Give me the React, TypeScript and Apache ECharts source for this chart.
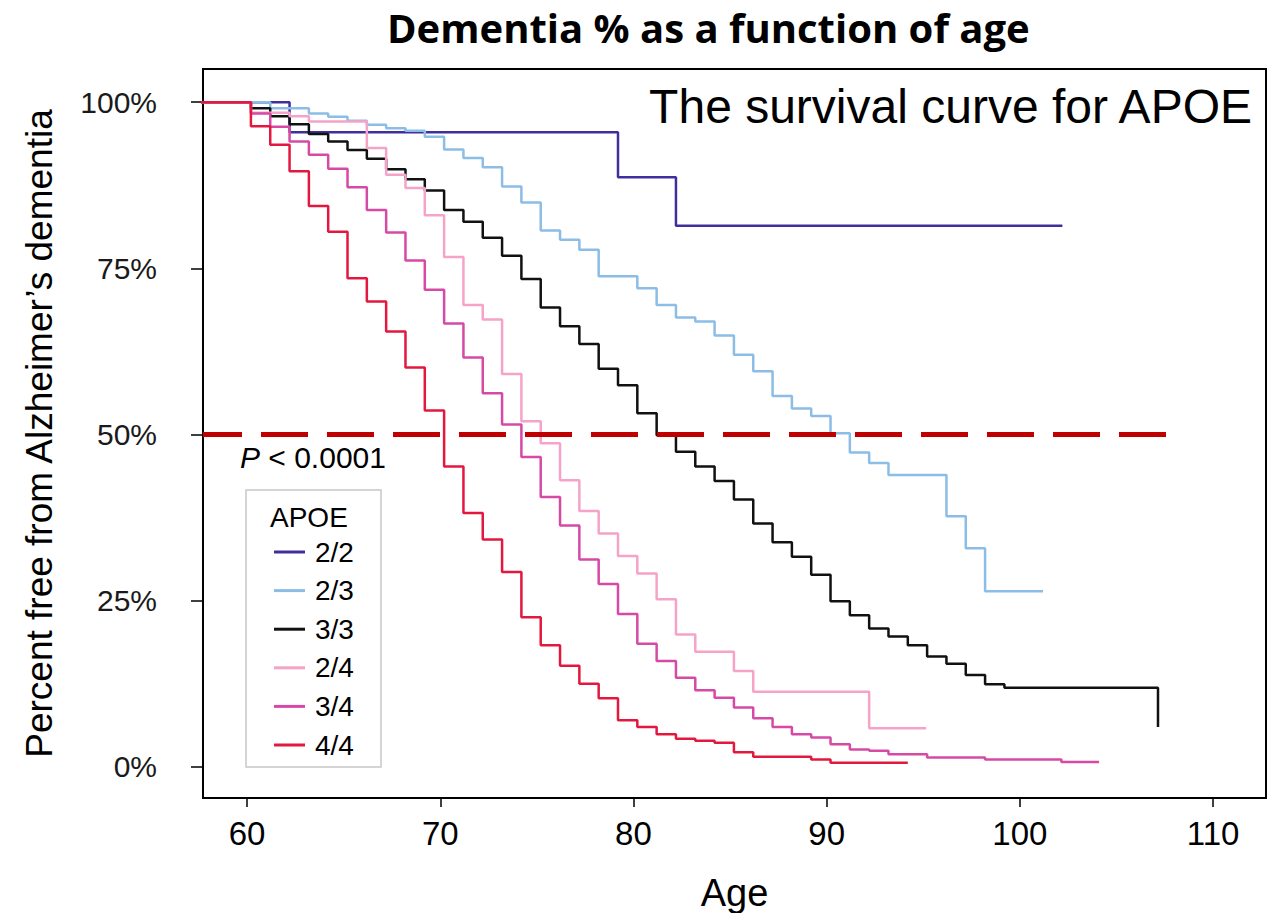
import React, { useEffect, useRef } from "react";
import * as echarts from "echarts";

const FONT = "'Liberation Sans', Arial, Helvetica, sans-serif";

// Axis extents (age in years, survival in percent)
const AGE_MIN = 57.72;
const AGE_MAX = 112.74;
const PCT_MIN = -4.7;
const PCT_MAX = 105;
const START_AGE = 55;

const X_TICKS = [60, 70, 80, 90, 100, 110];
const Y_TICKS = [0, 25, 50, 75, 100];

// Kaplan-Meier step data: ages at which the curve drops, and the level after each drop
const apoe22Ages = [62.2, 79.2, 82.2];
const apoe22Surv = [95.5, 88.7, 81.4];
const apoe22End = 102.2;

const apoe23Ages = [61.2, 63.2, 64.2, 65.2, 66.2, 67.2, 68.2, 69.2, 70.2, 71.2, 72.2, 73.2, 74.2, 75.2, 76.2, 77.2, 78.2, 80.2, 81.2, 82.2, 83.2, 84.2, 85.2, 86.2, 87.2, 88.2, 89.2, 90.2, 91.2, 92.2, 93.2, 96.2, 97.2, 98.2];
const apoe23Surv = [99.1, 98.3, 97.8, 97.2, 96.6, 96.1, 95.7, 94.8, 92.9, 91.6, 90.2, 87.3, 84.9, 80.7, 79.3, 77.8, 73.8, 72.0, 69.5, 67.6, 67.0, 64.9, 62.0, 59.5, 55.8, 53.9, 52.8, 50.2, 47.3, 45.7, 43.9, 37.7, 32.9, 26.4];
const apoe23End = 101.2;

const apoe33Ages = [60.2, 61.2, 62.2, 63.2, 64.2, 65.2, 66.2, 67.2, 68.2, 69.2, 70.2, 71.2, 72.2, 73.2, 74.2, 75.2, 76.2, 77.2, 78.2, 79.2, 80.2, 81.2, 82.2, 83.2, 84.2, 85.2, 86.2, 87.2, 88.2, 89.2, 90.2, 91.2, 92.2, 93.2, 94.2, 95.2, 96.2, 97.2, 98.2, 99.2, 107.15];
const apoe33Surv = [99.1, 97.9, 96.7, 95.2, 94.1, 92.8, 91.5, 89.9, 88.4, 86.7, 83.8, 82.0, 79.6, 76.9, 73.4, 69.1, 66.3, 63.6, 59.9, 57.4, 53.2, 49.9, 47.4, 45.2, 43.0, 40.2, 36.6, 33.8, 31.6, 28.9, 24.9, 22.8, 20.8, 19.6, 18.3, 16.6, 15.5, 13.8, 12.4, 11.9, 6.0];
const apoe33End = 107.15;

const apoe24Ages = [60.2, 62.2, 63.2, 66.2, 67.2, 68.2, 69.2, 70.2, 71.2, 72.2, 73.2, 74.2, 75.2, 76.2, 77.2, 78.2, 79.2, 80.2, 81.2, 82.2, 83.2, 85.2, 86.2, 92.2];
const apoe24Surv = [98.4, 97.9, 97.1, 93.1, 89.1, 87.1, 83.0, 76.7, 69.5, 67.3, 59.1, 52.0, 48.7, 43.1, 38.5, 35.1, 31.7, 29.1, 25.2, 19.9, 17.3, 14.4, 11.3, 5.8];
const apoe24End = 95.15;

const apoe34Ages = [60.2, 61.2, 62.2, 63.2, 64.2, 65.2, 66.2, 67.2, 68.2, 69.2, 70.2, 71.2, 72.2, 73.2, 74.2, 75.2, 76.2, 77.2, 78.2, 79.2, 80.2, 81.2, 82.2, 83.2, 84.2, 85.2, 86.2, 87.2, 88.2, 89.2, 90.2, 91.2, 92.2, 93.2, 95.2, 98.2, 102.15];
const apoe34Surv = [98.3, 96.3, 94.1, 92.1, 90.0, 87.2, 83.8, 80.4, 76.2, 71.8, 66.7, 61.6, 56.2, 51.5, 46.6, 40.6, 36.3, 31.2, 27.5, 23.0, 18.5, 15.9, 13.4, 11.5, 10.4, 8.9, 7.3, 6.0, 4.9, 4.4, 3.4, 2.6, 2.4, 1.9, 1.4, 1.1, 0.7];
const apoe34End = 104.1;

const apoe44Ages = [60.2, 61.2, 62.2, 63.2, 64.2, 65.2, 66.2, 67.2, 68.2, 69.2, 70.2, 71.2, 72.2, 73.2, 74.2, 75.2, 76.2, 77.2, 78.2, 79.2, 80.2, 81.2, 82.2, 83.2, 84.2, 85.2, 86.2, 89.2, 90.2];
const apoe44Surv = [96.4, 93.6, 89.6, 84.4, 80.5, 73.5, 70.0, 65.5, 60.1, 53.6, 45.2, 38.2, 34.2, 29.3, 22.5, 18.3, 15.2, 12.5, 10.3, 7.0, 6.0, 4.9, 4.2, 3.9, 3.6, 2.2, 1.5, 1.1, 0.6];
const apoe44End = 94.2;

// Median reference line
const MEDIAN_LEVEL = 50;
const MEDIAN_END = 107.6;

const GROUPS = [
  { name: "2/2", ages: apoe22Ages, surv: apoe22Surv, end: apoe22End, color: "#3f2f9c" },
  { name: "2/3", ages: apoe23Ages, surv: apoe23Surv, end: apoe23End, color: "#8cbde6" },
  { name: "3/3", ages: apoe33Ages, surv: apoe33Surv, end: apoe33End, color: "#111111" },
  { name: "2/4", ages: apoe24Ages, surv: apoe24Surv, end: apoe24End, color: "#f5a3c9" },
  { name: "3/4", ages: apoe34Ages, surv: apoe34Surv, end: apoe34End, color: "#d64aa6" },
  { name: "4/4", ages: apoe44Ages, surv: apoe44Surv, end: apoe44End, color: "#e3183f" },
];

function stepData(ages: number[], surv: number[], end: number) {
  const pts: number[][] = [[START_AGE, 100]];
  ages.forEach((a, i) => pts.push([a, surv[i]]));
  pts.push([end, surv[surv.length - 1]]);
  return pts;
}

export default function App() {
  const ref = useRef<HTMLDivElement>(null);

  useEffect(() => {
    const chart = echarts.init(ref.current!, undefined, { renderer: "svg" });

    const curves = GROUPS.map((g, i) => ({
      name: g.name,
      type: "line",
      step: "end",
      data: stepData(g.ages, g.surv, g.end),
      showSymbol: false,
      symbol: "none",
      clip: true,
      z: 2 + i,
      lineStyle: { color: g.color, width: 2.5 },
      itemStyle: { color: g.color },
      emphasis: { disabled: true },
    }));

    chart.setOption({
      animation: false,
      backgroundColor: "#ffffff",
      textStyle: { fontFamily: FONT },
      title: {
        text: "Dementia % as a function of age",
        left: 382,
        top: 2,
        textStyle: { fontFamily: "'Open Sans', Lato, sans-serif", fontWeight: "bold", fontSize: 40, color: "#000" },
      },
      grid: {
        left: 203,
        right: 3,
        top: 69,
        bottom: 115,
        show: true,
        borderColor: "#000",
        borderWidth: 2,
        backgroundColor: "transparent",
        outerBoundsMode: "none",
      },
      xAxis: {
        type: "value",
        min: AGE_MIN,
        max: AGE_MAX,
        name: "Age",
        nameLocation: "middle",
        nameGap: 76,
        nameMoveOverlap: false,
        nameTextStyle: { fontFamily: FONT, fontSize: 38, color: "#000" },
        axisLine: { show: false, onZero: false },
        axisTick: { show: true, length: 9, customValues: X_TICKS, lineStyle: { color: "#000", width: 1.5 } },
        axisLabel: { customValues: X_TICKS, fontFamily: FONT, fontSize: 33, color: "#000", margin: 19 },
        splitLine: { show: false },
      },
      yAxis: {
        type: "value",
        min: PCT_MIN,
        max: PCT_MAX,
        name: "Percent free from Alzheimer\u2019s dementia",
        nameLocation: "middle",
        nameGap: 145,
        nameRotate: 90,
        nameMoveOverlap: false,
        nameTextStyle: { fontFamily: FONT, fontSize: 37, color: "#000" },
        axisLine: { show: false, onZero: false },
        axisTick: { show: true, length: 12, customValues: Y_TICKS, lineStyle: { color: "#000", width: 1.5 } },
        axisLabel: { customValues: Y_TICKS, formatter: "{value}%", fontFamily: FONT, fontSize: 30, color: "#1a1a1a", margin: 46 },
        splitLine: { show: false },
      },
      legend: {
        data: GROUPS.map((g) => g.name),
        orient: "vertical",
        left: 269,
        top: 532,
        itemWidth: 31,
        itemHeight: 3,
        itemGap: 8.6,
        icon: "rect",
        selectedMode: false,
        textStyle: { fontFamily: FONT, fontSize: 28, lineHeight: 30, color: "#000", padding: [0, 0, 0, 5] },
      },
      graphic: [
        {
          type: "rect",
          shape: { x: 246, y: 490, width: 135, height: 277 },
          style: { fill: "none", stroke: "#c8c8c8", lineWidth: 1.5 },
          z: 10,
        },
        {
          type: "text",
          x: 270,
          y: 517,
          style: { text: "APOE", fontFamily: FONT, fontSize: 28, fill: "#000", verticalAlign: "middle" },
          z: 10,
        },
        {
          type: "text",
          x: 240,
          y: 457,
          style: {
            text: "{i|P}{n| < 0.0001}",
            verticalAlign: "middle",
            rich: {
              i: { fontFamily: FONT, fontStyle: "italic", fontSize: 30, fill: "#000" },
              n: { fontFamily: FONT, fontSize: 30, fill: "#000" },
            },
          },
          z: 10,
        },
        {
          type: "text",
          x: 1252,
          y: 106,
          style: {
            text: "The survival curve for APOE",
            fontFamily: FONT,
            fontSize: 48,
            fill: "#000",
            align: "right",
            verticalAlign: "middle",
          },
          z: 10,
        },
      ],
      series: [
        ...curves,
        {
          name: "median",
          type: "line",
          data: [
            [AGE_MIN, MEDIAN_LEVEL],
            [MEDIAN_END, MEDIAN_LEVEL],
          ],
          showSymbol: false,
          symbol: "none",
          z: 20,
          lineStyle: { color: "#c00000", width: 5, type: [47, 19], dashOffset: 8 },
          emphasis: { disabled: true },
        },
      ],
    });

    return () => chart.dispose();
  }, []);

  return (
    <div
      ref={ref}
      style={{ position: "absolute", left: 0, top: 0, width: 1269, height: 913, background: "#fff" }}
    />
  );
}
